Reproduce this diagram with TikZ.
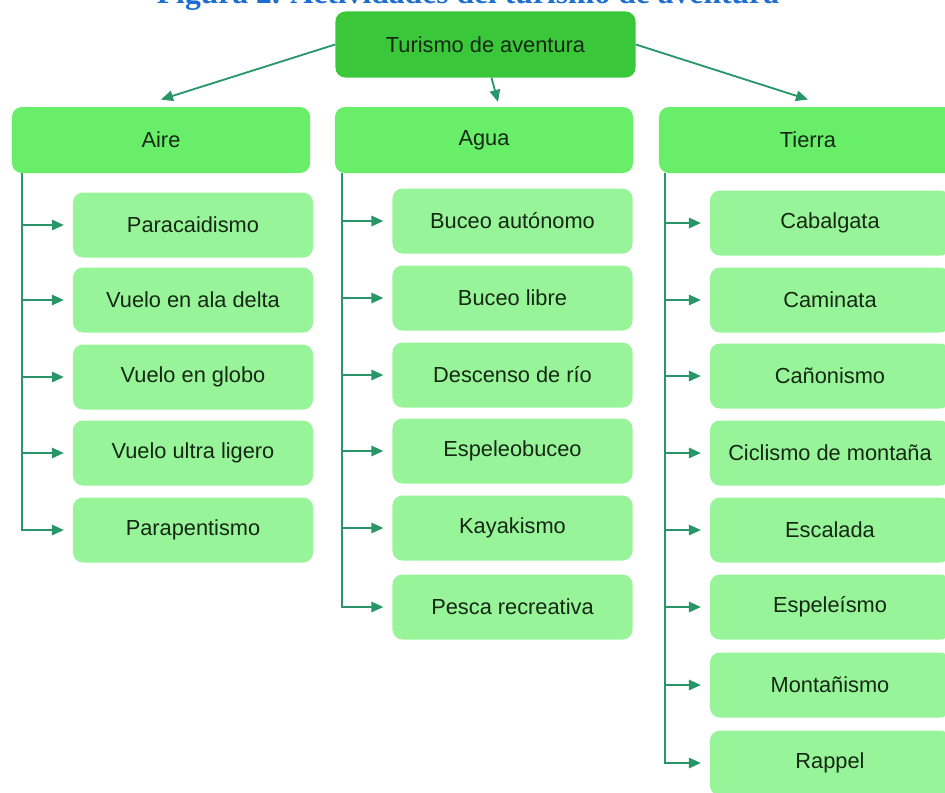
\documentclass[tikz,border=0pt]{standalone}
\usepackage{fontspec}
\setmainfont{Liberation Sans}
\newfontfamily\titlefont{Liberation Serif}
\usetikzlibrary{arrows.meta}
\definecolor{rootgreen}{RGB}{58,200,58}
\definecolor{groupgreen}{RGB}{104,238,104}
\definecolor{itemgreen}{RGB}{152,244,152}
\definecolor{linkteal}{RGB}{40,150,105}
\definecolor{textdark}{RGB}{20,40,20}
\definecolor{titleblue}{RGB}{30,110,210}

\begin{document}
\begin{tikzpicture}[x=0.025cm, y=-0.025cm,
  box/.style={rounded corners=0.25cm, inner sep=0pt, text=textdark,
    font=\fontsize{15.5}{18}\selectfont},
  root/.style={box, fill=rootgreen, minimum width=7.5cm, minimum height=1.65cm},
  group/.style={box, fill=groupgreen, minimum width=7.45cm, minimum height=1.65cm},
  item/.style={box, fill=itemgreen, minimum width=6cm, minimum height=1.625cm},
  link/.style={draw=linkteal, line width=1.3pt,
    -{Triangle[length=0.3cm, width=0.26cm]}}
]
\useasboundingbox (0,0) rectangle (945,792);

\node[anchor=base, text=titleblue, font=\titlefont\bfseries\fontsize{22.5}{26}\selectfont]
  (title) at (468,3) {Figura 2. Actividades del turismo de aventura};

\node[root] (turismo) at (485.5,44.5) {Turismo de aventura};
\node[group] (aire) at (161,140) {Aire};
\node[group] (agua) at (484,140) {Agua};
\node[group] (tierra) at (808,140) {Tierra};

\draw[link] (turismo.west) -- ([yshift=0.18cm]aire.north);
\draw[link] ([xshift=0.15cm]turismo.south) -- ([xshift=0.35cm,yshift=0.12cm]agua.north);
\draw[link] (turismo.east) -- ([yshift=0.18cm]tierra.north);

\foreach \name/\y/\txt in {a1/225/Paracaidismo, a2/300/Vuelo en ala delta,
    a3/377/Vuelo en globo, a4/453/Vuelo ultra ligero, a5/530/Parapentismo}
{
  \node[item] (\name) at (193,\y) {\txt};
  \draw[link] ([xshift=0.25cm]aire.south west) |- ([xshift=-0.22cm]\name.west);
}

\foreach \name/\y/\txt in {w1/221/Buceo autónomo, w2/298/Buceo libre,
    w3/375/Descenso de río, w4/451/Espeleobuceo, w5/528/Kayakismo,
    w6/607/Pesca recreativa}
{
  \node[item] (\name) at (512.5,\y) {\txt};
  \draw[link] ([xshift=0.18cm]agua.south west) |- ([xshift=-0.22cm]\name.west);
}

\foreach \name/\y/\txt in {t1/223/Cabalgata, t2/300/Caminata, t3/376/Cañonismo,
    t4/453/Ciclismo de montaña, t5/530/Escalada, t6/607/Espeleísmo,
    t7/685/Montañismo, t8/763/Rappel}
{
  \node[item] (\name) at (830,\y) {\txt};
  \draw[link] ([xshift=0.16cm]tierra.south west) |- ([xshift=-0.22cm]\name.west);
}
\end{tikzpicture}
\end{document}
